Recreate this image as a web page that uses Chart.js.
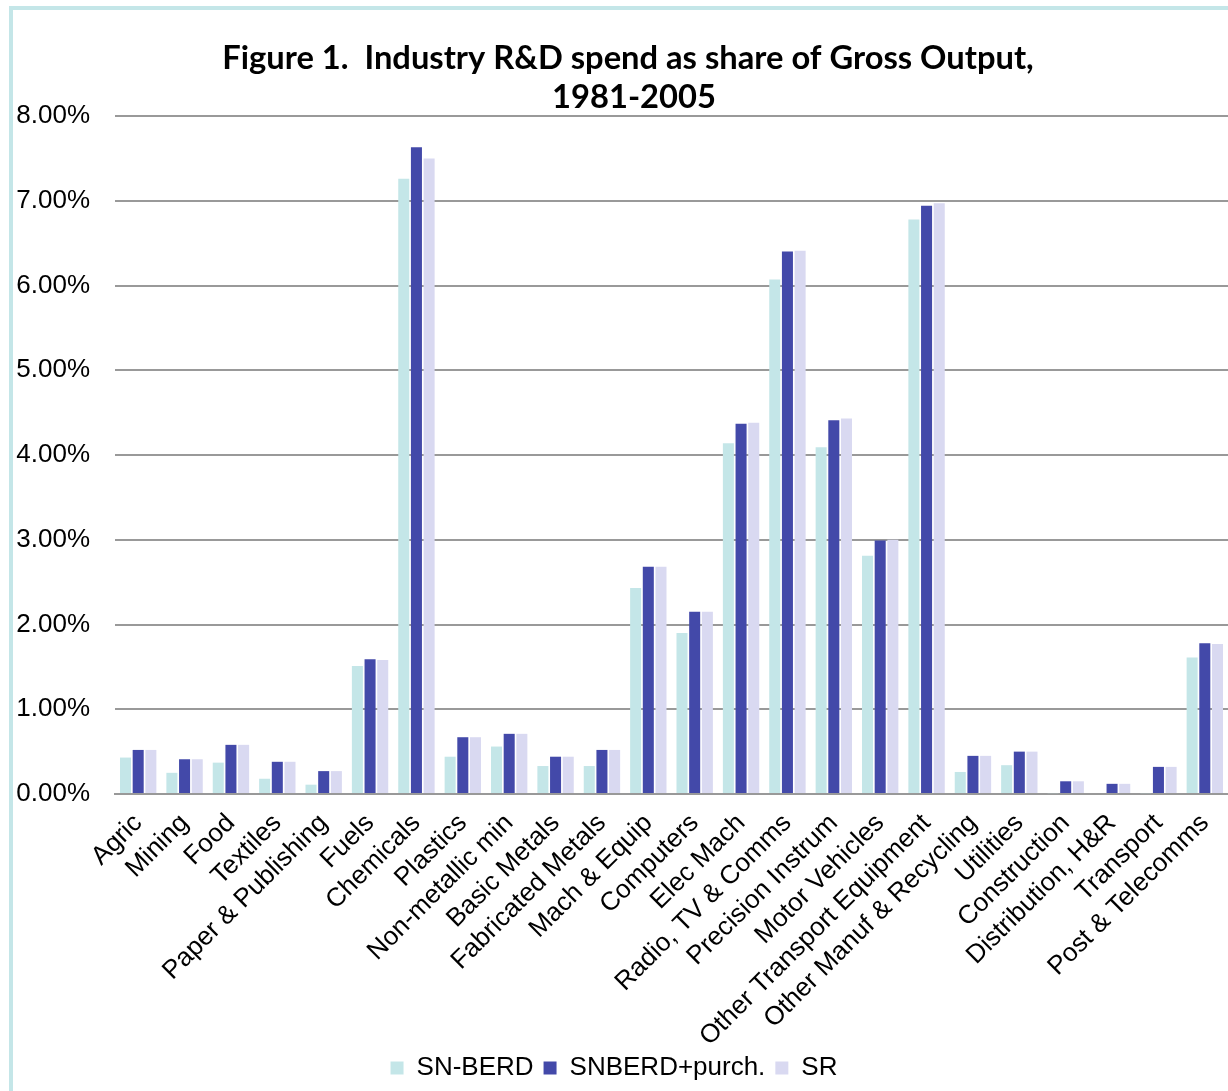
<!DOCTYPE html>
<html>
<head>
<meta charset="utf-8">
<script src="https://cdn.jsdelivr.net/npm/chart.js@4.4.0/dist/chart.umd.min.js"></script>
<style>
html,body{margin:0;padding:0;background:#fff;}
#wrap{width:1228px;height:1091px;position:relative;}
</style>
</head>
<body>
<div id="wrap"><canvas id="c" width="1228" height="1091"></canvas></div>
<script>
const titleLines = ["Figure 1.  Industry R&D spend as share of Gross Output,", "1981-2005"];
const categories = ["Agric","Mining","Food","Textiles","Paper & Publishing","Fuels","Chemicals","Plastics","Non-metallic min","Basic Metals","Fabricated Metals","Mach & Equip","Computers","Elec Mach","Radio, TV & Comms","Precision Instrum","Motor Vehicles","Other Transport Equipment","Other Manuf & Recycling","Utilities","Construction","Distribution, H&R","Transport","Post & Telecomms"];
const snBerd =      [0.43,0.25,0.37,0.18,0.11,1.51,7.26,0.44,0.56,0.33,0.33,2.43,1.90,4.14,6.07,4.09,2.81,6.78,0.26,0.34,0.01,0.00,0.01,1.61];
const snBerdPurch = [0.52,0.41,0.58,0.38,0.27,1.59,7.63,0.67,0.71,0.44,0.52,2.68,2.15,4.37,6.40,4.41,2.99,6.94,0.45,0.50,0.15,0.12,0.32,1.78];
const sr =          [0.52,0.41,0.58,0.38,0.27,1.58,7.50,0.67,0.71,0.44,0.52,2.68,2.15,4.38,6.41,4.43,3.00,6.97,0.45,0.50,0.15,0.12,0.32,1.77];
const yTicks = [0,1,2,3,4,5,6,7,8];

const FONT = "'Liberation Sans', Arial, sans-serif";

const framePlugin = {
  id: 'frame',
  beforeDraw(chart) {
    const ctx = chart.ctx;
    ctx.save();
    ctx.fillStyle = '#fff';
    ctx.fillRect(0, 0, chart.width, chart.height);
    ctx.strokeStyle = '#C4E6E8';
    ctx.lineWidth = 4;
    ctx.strokeRect(11, 8, chart.width + 20, chart.height + 20);
    ctx.restore();
  },
  afterDraw(chart) {
    const ctx = chart.ctx;
    ctx.save();
    ctx.fillStyle = '#000';
    ctx.textAlign = 'center';
    ctx.textBaseline = 'alphabetic';
    let size = 30;
    ctx.font = "bold " + size + "px Lato, 'Open Sans', sans-serif";
    const w = ctx.measureText(titleLines[0]).width;
    size = size * 811 / w;
    ctx.font = "bold " + size.toFixed(1) + "px Lato, 'Open Sans', sans-serif";
    ctx.fillText(titleLines[0], 628, 69);
    ctx.fillText(titleLines[1], 634, 108);
    ctx.restore();
  }
};

new Chart(document.getElementById('c'), {
  type: 'bar',
  data: {
    labels: categories,
    datasets: [
      { label: 'SN-BERD', data: snBerd, backgroundColor: '#C4E6E8' },
      { label: 'SNBERD+purch.', data: snBerdPurch, backgroundColor: '#4349A9' },
      { label: 'SR', data: sr, backgroundColor: '#D9D9F1' }
    ]
  },
  options: {
    responsive: false,
    animation: false,
    devicePixelRatio: 1,
    layout: { padding: { top: 116, left: 0, right: 0, bottom: 0 } },
    datasets: { bar: { categoryPercentage: 0.82, barPercentage: 0.87 } },
    plugins: {
      title: { display: false },
      tooltip: { enabled: false },
      legend: {
        position: 'bottom',
        labels: {
          color: '#000',
          font: { family: FONT, size: 26 },
          boxWidth: 13, boxHeight: 13, padding: 10
        }
      }
    },
    scales: {
      x: {
        grid: { display: false, drawTicks: false },
        border: { display: true, color: '#999', width: 2 },
        ticks: {
          color: '#000',
          font: { family: FONT, size: 26 },
          minRotation: 45, maxRotation: 45,
          autoSkip: false, padding: 14
        },
        afterFit(s) { s.height = 251; s.paddingRight = 0; s.paddingLeft = 0; }
      },
      y: {
        min: 0, max: 8,
        afterBuildTicks(s) { s.ticks = yTicks.map(v => ({ value: v })); },
        grid: { color: '#999', lineWidth: 2, drawTicks: false },
        border: { display: false },
        ticks: {
          color: '#000',
          font: { family: FONT, size: 26 },
          padding: 25,
          callback: v => Number(v).toFixed(2) + '%'
        },
        afterFit(s) { s.width = 115; }
      }
    }
  },
  plugins: [framePlugin]
});
</script>
</body>
</html>
